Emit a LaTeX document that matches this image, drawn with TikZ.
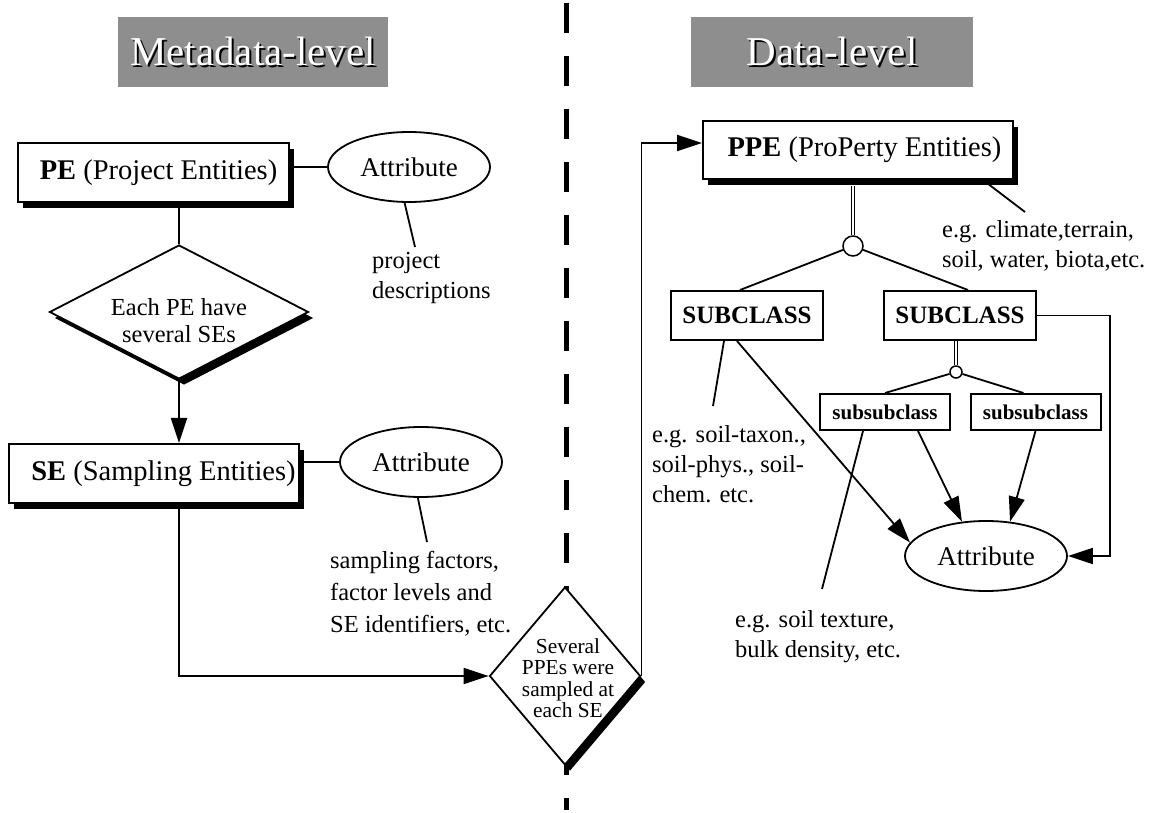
\documentclass[tikz,border=0pt]{standalone}
\usepackage{fontspec}
\setmainfont{Liberation Serif}
\usetikzlibrary{shapes.geometric, arrows.meta, shadows, positioning}

\definecolor{hdrgray}{RGB}{142,142,142}

\tikzstyle{header}=[fill=hdrgray, text=white, minimum height=70pt, inner sep=0pt, font=\fontsize{41}{48}\selectfont]
\tikzstyle{entity}=[draw, line width=2pt, fill=white, minimum height=59pt, inner sep=0pt, font=\fontsize{28.5}{34}\selectfont, drop shadow={shadow xshift=5pt, shadow yshift=-6pt, fill=black, opacity=1}]
\tikzstyle{relation}=[diamond, draw, line width=1.8pt, fill=white, inner sep=0pt, drop shadow={shadow xshift=5pt, shadow yshift=-6pt, fill=black, opacity=1}]
\tikzstyle{reltext}=[align=center, inner sep=0pt]
\tikzstyle{attrib}=[ellipse, draw, line width=1.8pt, fill=white, minimum width=162pt, minimum height=70pt, inner sep=0pt, font=\fontsize{27}{32}\selectfont]
\tikzstyle{subcls}=[draw, line width=2pt, fill=white, minimum width=152pt, minimum height=49pt, inner sep=0pt, font=\bfseries\fontsize{25}{30}\selectfont]
\tikzstyle{subsubcls}=[draw, line width=2pt, fill=white, minimum width=130pt, minimum height=36pt, inner sep=0pt, font=\bfseries\fontsize{21}{25}\selectfont]
\tikzstyle{isa}=[circle, draw, line width=1.5pt, fill=white, inner sep=0pt]
\tikzstyle{note}=[align=left, anchor=north west, inner sep=0pt, font=\fontsize{24.5}{30}\selectfont]
\tikzstyle{link}=[line width=1.8pt]
\tikzstyle{flow}=[line width=1.8pt, -{Triangle[length=25pt,width=16pt]}]
\tikzstyle{isaedge}=[double, double distance=2.2pt, line width=1.2pt]

\newcommand{\shadowed}[1]{\makebox[0pt][l]{\hspace{2pt}\raisebox{-2pt}{\color{black}#1}}#1}

\begin{document}
\begin{tikzpicture}[x=1pt, y=-1pt]
\fill[white] (0,0) rectangle (1152,810);

% headings
\node[header, minimum width=270pt] (metahdr) at (253,52) {\shadowed{Metadata-level}};
\node[header, minimum width=282pt] (datahdr) at (832,52) {\shadowed{Data-level}};

% dividing line
\draw[line width=5pt, dash pattern=on 30pt off 23pt] (566,3) -- (566,810);

% metadata level
\node[entity, minimum width=271pt] (pe) at (153.5,172.5) {\hspace*{10pt}\textbf{PE} (Project Entities)};
\node[attrib] (peattr) at (409,167) {Attribute};
\node[relation, minimum width=259pt, minimum height=134pt,
      label={[reltext, yshift=-9pt, font=\fontsize{24.5}{27}\selectfont]center:Each PE have\\several SEs}] (pese) at (179,312) {};
\node[entity, minimum width=290pt] (se) at (154,473.5) {\hspace*{19pt}\textbf{SE} (Sampling Entities)};
\node[attrib] (seattr) at (421,462) {Attribute};
\node[relation, minimum width=151pt, minimum height=178pt,
      label={[reltext, xshift=3pt, yshift=-2pt, font=\fontsize{21.4}{21.4}\selectfont]center:Several\\PPEs were\\sampled at\\each SE}] (seppe) at (565,676) {};

\node[note] (pedesc) at (372,252) {project\\descriptions};
\node[note, font=\fontsize{24.5}{32}\selectfont] (sedesc) at (330,551) {sampling factors,\\factor levels and\\SE identifiers, etc.};
\coordinate (pedesctip) at (415,247);
\coordinate (sedesctip) at (427,542);

\draw[link] (pe.east |- peattr.west) -- (peattr.west);
\draw[link] (peattr.263) -- (pedesctip);
\draw[link] (pese.north |- pe.south) -- (pese.north);
\draw[flow] (pese.south) -- (pese.south |- se.north);
\draw[link] (seattr.west -| se.east) -- (seattr.west);
\draw[link] (seattr.265) -- (sedesctip);
\draw[flow] (se.south -| pese.south) |- (seppe.west);

% data level
\node[entity, minimum width=310pt, minimum height=58pt] (ppe) at (858,150) {\hspace*{13pt}\textbf{PPE} (ProPerty Entities)};
\node[isa, minimum size=20pt] (ppeisa) at (853,246) {};
\node[subcls] (sub1) at (747,315.5) {SUBCLASS};
\node[subcls] (sub2) at (960,315.5) {SUBCLASS};
\node[isa, minimum size=12pt] (subisa) at (956,372) {};
\node[subsubcls] (ssub1) at (885,412) {subsubclass};
\node[subsubcls] (ssub2) at (1035.5,412) {subsubclass};
\node[attrib] (clsattr) at (986,556) {Attribute};

\node[note] (ppedesc) at (942,220) {e.g. climate,terrain,\\soil, water, biota,etc.};
\node[note] (sub1desc) at (652,425) {e.g. soil-taxon.,\\soil-phys., soil-\\chem. etc.};
\node[note] (ssubdesc) at (735,610) {e.g. soil texture,\\bulk density, etc.};
\coordinate (ppedesctip) at (1025,212);
\coordinate (sub1desctip) at (713,406);
\coordinate (ssubdesctip) at (822,589);

\draw[flow] (seppe.east) |- ([yshift=7pt]ppe.west);
\draw[isaedge] ([yshift=-6pt]ppeisa.north |- ppe.south) -- (ppeisa.north);
\draw[link] (ppeisa) -- ([xshift=-7pt]sub1.north);
\draw[link] (ppeisa) -- ([xshift=8pt]sub2.north);
\draw[isaedge] (subisa.north |- sub2.south) -- (subisa.north);
\draw[link] (subisa) -- (ssub1.north);
\draw[link] (subisa) -- ([xshift=-12pt]ssub2.north);
\draw[link] ([xshift=-31pt]ppe.south east) -- (ppedesctip);
\draw[link] ([xshift=-23pt]sub1.south) -- (sub1desctip);
\draw[link] ([xshift=-22pt]ssub1.south) -- (ssubdesctip);
\draw[flow] ([xshift=-10pt]sub1.south) -- (clsattr.170);
\draw[flow] ([xshift=33pt]ssub1.south) -- (clsattr.125);
\draw[flow] (ssub2.south) -- (clsattr.55);
\draw[flow] (sub2.east) -- ++(73,0) |- (clsattr.east);

\end{tikzpicture}
\end{document}
